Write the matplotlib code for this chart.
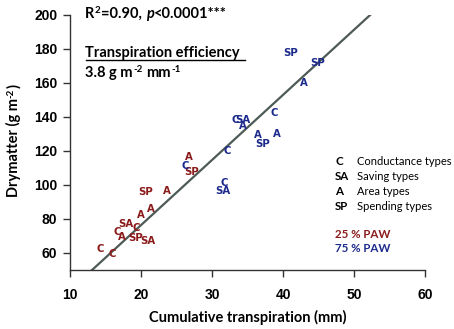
import matplotlib
matplotlib.use("Agg")
import matplotlib.pyplot as plt

# ---- data ----
red_labels = ["C", "C", "C", "A", "SA", "C", "SP", "SA", "A", "A", "SP", "A", "A", "SP"]
red_x = [14.2, 15.9, 16.6, 17.3, 17.9, 19.3, 19.3, 21.0, 20.0, 21.4, 20.6, 23.6, 26.8, 27.2]
red_y = [62.4, 59.4, 72.4, 69.4, 77.1, 74.7, 68.8, 67.1, 82.4, 85.9, 95.9, 96.5, 116.5, 107.6]

blue_labels = ["SP", "SP", "A", "C", "C", "SA", "A", "A", "SP", "A", "C", "C", "C", "SA"]
blue_x = [41.1, 44.9, 42.9, 38.7, 33.3, 34.3, 34.4, 36.4, 37.1, 39.2, 32.2, 26.2, 31.7, 31.6]
blue_y = [177.6, 171.8, 160.0, 142.4, 138.2, 138.2, 134.7, 129.4, 124.1, 130.0, 120.0, 111.2, 101.2, 96.5]

fit_x = [13.1, 52.5]
slope = 3.83
intercept = -0.2

legend_codes = ["C", "SA", "A", "SP"]
legend_names = ["Conductance types", "Saving types", "Area types", "Spending types"]

xticks = [10, 20, 30, 40, 50, 60]
yticks = [60, 80, 100, 120, 140, 160, 180, 200]

RED = "#8b1a1a"
BLUE = "#1c2a8c"
FONT = "Lato"

W, H = 454, 329
fig = plt.figure(figsize=(W / 100, H / 100), dpi=100)
ax = fig.add_axes([70 / W, 1 - 270 / H, 355 / W, 255 / H])
ax.set_xlim(10, 60)
ax.set_ylim(50, 200)
ax.set_xticks(xticks)
ax.set_yticks(yticks)
for s in ["top", "right"]:
    ax.spines[s].set_visible(False)
for s in ["left", "bottom"]:
    ax.spines[s].set_color("#333333")
    ax.spines[s].set_linewidth(1.0)
ax.tick_params(direction="out", length=5, width=1, color="#333333", labelsize=10, pad=4)
ax.tick_params(axis="x", pad=8)
for lab in ax.get_xticklabels() + ax.get_yticklabels():
    lab.set_fontweight("bold")
    lab.set_family("Liberation Sans")

fy = [slope * v + intercept for v in fit_x]
ax.plot(fit_x, fy, color="#4d5a55", lw=1.6, zorder=1)

for l, x, y in zip(red_labels, red_x, red_y):
    ax.text(x, y, l, color=RED, ha="center", va="center", fontsize=7.3,
            family="DejaVu Sans", fontweight="bold", zorder=2)
for l, x, y in zip(blue_labels, blue_x, blue_y):
    ax.text(x, y, l, color=BLUE, ha="center", va="center", fontsize=7.3,
            family="DejaVu Sans", fontweight="bold", zorder=2)

ax.set_xlabel("Cumulative transpiration (mm)", family=FONT, fontweight="bold",
              fontsize=10.5, labelpad=6)

renderer = fig.canvas.get_renderer()


def rich(x_px, y_px, parts, rotation=0, color="black"):
    """parts: list of (text, size, weight, style, rise_px, gap_px_before)"""
    cur_x, cur_y = x_px, y_px
    for s, size, weight, style, rise, gap in parts:
        if rotation == 0:
            cur_x += gap
            t = fig.text(cur_x / W, 1 - (cur_y - rise) / H, s, family=FONT,
                         fontsize=size, fontweight=weight, fontstyle=style,
                         ha="left", va="baseline", color=color)
            bb = t.get_window_extent(renderer)
            cur_x = bb.x1
        else:
            cur_y -= gap
            t = fig.text((cur_x - rise) / W, 1 - cur_y / H, s, family=FONT,
                         fontsize=size, fontweight=weight, fontstyle=style,
                         ha="left", va="baseline", rotation=90,
                         rotation_mode="anchor", color=color)
            bb = t.get_window_extent(renderer)
            cur_y = H - bb.y1


B = "bold"
N = "normal"
rich(85, 18, [("R", 10.5, B, N, 0, 0), ("2", 7, B, N, 5, 0.5),
              ("=0.90,", 10.5, B, N, 0, 0.5), ("p", 10.5, B, "italic", 0, 4),
              ("<0.0001***", 10.5, B, N, 0, 0.5)])
fig.text(85 / W, 1 - 57 / H, "Transpiration efficiency", family=FONT,
         fontweight="bold", fontsize=10.5, va="baseline", ha="left")
fig.add_artist(plt.Line2D([86 / W, 245 / W], [1 - 60 / H, 1 - 60 / H],
                          color="black", lw=1.0))
rich(85, 77, [("3.8 g m", 10.5, B, N, 0, 0), ("-2", 7, B, N, 5, 0.5),
              ("mm", 10.5, B, N, 0, 4), ("-1", 7, B, N, 5, 0.5)])

rich(18, 197, [("Drymatter (g m", 10.5, B, N, 0, 0), ("-2", 7, B, N, 5, 0.5),
               (")", 10.5, B, N, 0, 0.5)], rotation=90)

leg_y = [165, 180, 195, 210]
for c, n, yy in zip(legend_codes, legend_names, leg_y):
    fig.text(335 / W, 1 - yy / H, c, family=FONT, fontweight="bold", fontsize=8.3,
             va="baseline", ha="left")
    fig.text(357 / W, 1 - yy / H, n, family=FONT, fontsize=8,
             va="baseline", ha="left")
fig.text(335 / W, 1 - 238 / H, "25 % PAW", family=FONT, fontweight="bold",
         fontsize=8.3, color=RED, va="baseline", ha="left")
fig.text(335 / W, 1 - 252 / H, "75 % PAW", family=FONT, fontweight="bold",
         fontsize=8.3, color=BLUE, va="baseline", ha="left")

fig.savefig("out.png", dpi=100)
